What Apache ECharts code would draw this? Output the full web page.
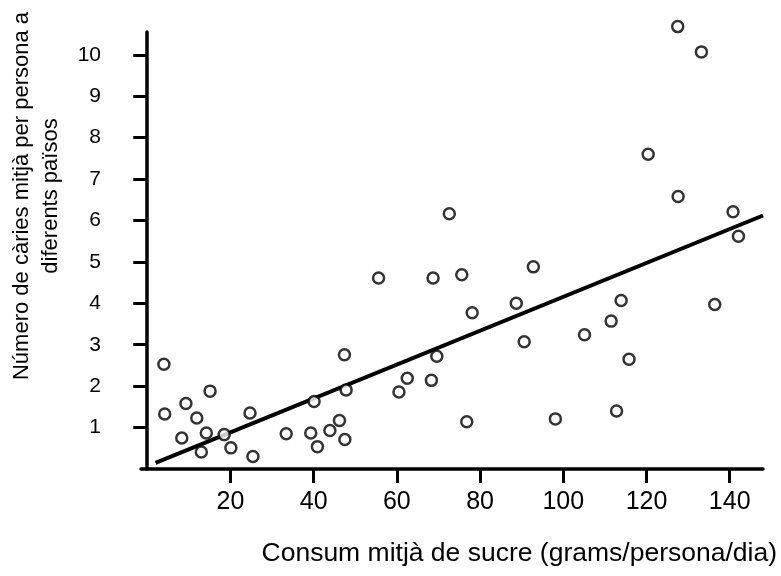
<!DOCTYPE html>
<html>
<head>
<meta charset="utf-8">
<style>
  html, body { margin: 0; padding: 0; background: #fff; }
  #chart { width: 781px; height: 576px; }
</style>
<script src="https://cdn.jsdelivr.net/npm/echarts@6/dist/echarts.min.js"></script>
</head>
<body>
<div id="chart"></div>
<script>
// sugar consumption (g/person/day) per country
var sugar = [4.0, 4.2, 9.3, 11.9, 15.1, 8.3, 14.2, 13.0, 18.5, 20.1,
    24.7, 25.4, 33.4, 39.3, 40.9, 40.1, 43.9, 46.2, 47.5, 47.8,
    47.4, 55.6, 68.7, 60.5, 62.5, 68.3, 69.6, 75.6, 92.8, 78.1,
    88.7, 90.6, 105.1, 111.5, 113.9, 115.8, 136.4, 76.8, 98.1, 112.8,
    142.1, 127.5, 133.2, 120.4, 127.6, 140.8, 72.6];
// mean decayed teeth per person
var caries = [2.53, 1.33, 1.58, 1.23, 1.88, 0.75, 0.87, 0.41, 0.83, 0.51,
    1.35, 0.30, 0.85, 0.87, 0.54, 1.63, 0.93, 1.17, 0.71, 1.91,
    2.76, 4.61, 4.61, 1.86, 2.19, 2.14, 2.72, 4.69, 4.88, 3.77,
    4.00, 3.07, 3.24, 3.57, 4.07, 2.65, 3.97, 1.14, 1.21, 1.40,
    5.62, 10.68, 10.07, 7.60, 6.58, 6.21, 6.16];
// regression line end points
var fitX = [2, 148];
var fitY = [0.15, 6.12];

var xTicks = [20, 40, 60, 80, 100, 120, 140];
var yTicks = [1, 2, 3, 4, 5, 6, 7, 8, 9, 10];

var yTitle = 'Número de càries mitjà per persona a\ndiferents països';
var xTitle = 'Consum mitjà de sucre (grams/persona/dia)';

var points = sugar.map(function (v, i) { return [v, caries[i]]; });
var fit = fitX.map(function (v, i) { return [v, fitY[i]]; });

var chart = echarts.init(document.getElementById('chart'));
var font = '"Liberation Sans", Arial, sans-serif';

var option = {
    animation: false,
    backgroundColor: '#fff',
    grid: { left: 141, right: 18, top: 32, bottom: 107 },
    xAxis: {
        type: 'value',
        min: -1.5,
        max: 148,
        splitLine: { show: false },
        axisLine: { lineStyle: { color: '#000', width: 3.5 } },
        axisTick: { customValues: xTicks, length: 14, lineStyle: { color: '#000', width: 3 } },
        axisLabel: { customValues: xTicks, color: '#000', fontSize: 25, fontFamily: font, margin: 21 }
    },
    yAxis: {
        type: 'value',
        min: 0,
        max: 10.55,
        splitLine: { show: false },
        axisLine: { show: true, lineStyle: { color: '#000', width: 3.5 } },
        axisTick: { show: true, customValues: yTicks, length: 14, lineStyle: { color: '#000', width: 3 } },
        axisLabel: { customValues: yTicks, color: '#000', fontSize: 21, fontFamily: font, margin: 40 }
    },
    graphic: [
        {
            type: 'text',
            x: 36, y: 196,
            rotation: Math.PI / 2,
            style: {
                text: yTitle, fill: '#000', font: '22px ' + font,
                align: 'center', verticalAlign: 'middle', lineHeight: 29
            }
        },
        {
            type: 'text',
            x: 777, y: 554,
            style: {
                text: xTitle, fill: '#000', font: '26.5px ' + font,
                align: 'right', verticalAlign: 'middle'
            }
        }
    ],
    series: [
        {
            type: 'line',
            data: fit,
            symbol: 'none',
            lineStyle: { color: '#000', width: 4 },
            z: 2
        },
        {
            type: 'scatter',
            data: points,
            clip: false,
            symbol: 'circle',
            symbolSize: 11,
            itemStyle: { color: '#fff', borderColor: '#000', borderWidth: 2.5 },
            z: 3
        }
    ]
};

chart.setOption(option);
</script>
</body>
</html>
